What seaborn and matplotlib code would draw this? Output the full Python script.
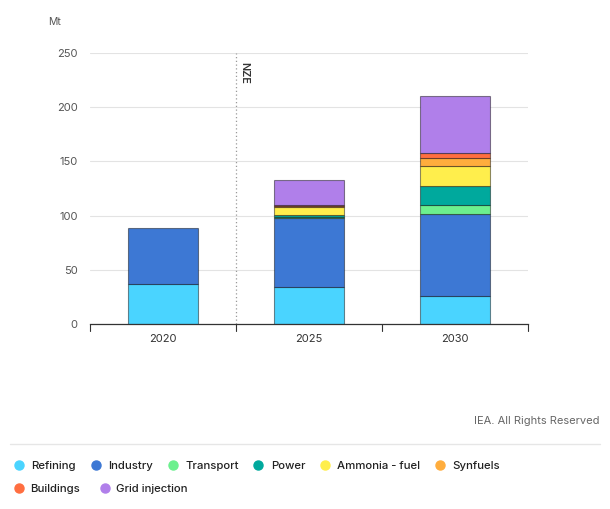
import matplotlib
matplotlib.use("Agg")
import matplotlib.pyplot as plt
from matplotlib.lines import Line2D
import seaborn as sns
import numpy as np

years = ["2020", "2025", "2030"]
sectors = ["Refining", "Industry", "Transport", "Power", "Ammonia - fuel",
           "Synfuels", "Buildings", "Grid injection"]
refining = [37, 34, 26]
industry = [52, 64, 75.5]
transport = [0, 1, 8]
power = [0, 1.5, 18]
ammonia = [0, 7, 18]
synfuels = [0, 1, 7.5]
buildings = [0, 1.5, 5]
grid = [0, 23, 52]
series = [refining, industry, transport, power, ammonia, synfuels, buildings, grid]
colors = ["#4ad4ff", "#3d78d4", "#6cf08e", "#00a99d", "#ffee4c",
          "#ffad3d", "#ff6e40", "#b07fea"]
yticks = [0, 50, 100, 150, 200, 250]

sns.set_theme(style="white")
plt.rcParams['font.family'] = ['Inter', 'DejaVu Sans']

fig = plt.figure(figsize=(6.1, 5.09), dpi=100)
ax = fig.add_axes([90/610, 1-324/509, 438/610, 271/509])

bottom = np.zeros(len(years))
for vals, col in zip(series, colors):
    v = np.array(vals, dtype=float)
    mask = v > 0
    sns.barplot(x=[y for y, m in zip(years, mask) if m], y=v[mask],
                bottom=bottom[mask], color=col, order=years, width=0.48,
                errorbar=None, ax=ax, saturation=1,
                edgecolor=(0, 0, 0, 0.45), linewidth=0.8)
    bottom = bottom + v

ax.set_xlim(-0.5, 2.5)
ax.set_ylim(0, 250)
ax.set_yticks(yticks)
ax.set_yticklabels([str(t) for t in yticks], color="#555555", fontsize=8)
ax.set_xticks([0, 1, 2])
ax.set_xticklabels(years, color="#333333", fontsize=8)
ax.tick_params(axis="x", length=0, pad=7)
ax.tick_params(axis="y", length=0, pad=9)
for t in [-0.5, 0.5, 1.5, 2.5]:
    ax.plot([t, t], [0, -6], color="#333333", lw=0.8, clip_on=False)
ax.set_xlabel("")
ax.set_ylabel("")
ax.yaxis.grid(True, color="#e3e3e3", lw=0.8)
ax.set_axisbelow(True)
for s in ["top", "right", "left"]:
    ax.spines[s].set_visible(False)
ax.spines["bottom"].set_color("#333333")
ax.spines["bottom"].set_linewidth(0.9)

ax.axvline(0.5, ymin=0, ymax=1, color="#999999", lw=0.9, ls=(0, (1, 2)))
ax.text(0.525, 242, "NZE", rotation=-90, va="top", ha="left", fontsize=7.8,
        color="#333333", fontweight="semibold")

fig.text(48/610, 1-22/509, "Mt", fontsize=7.5, color="#555555", va="center")
fig.text(600/610, 1-421/509, "IEA. All Rights Reserved", fontsize=8,
         color="#666666", ha="right", va="center")
fig.add_artist(Line2D([10/610, 600/610], [1-444/509, 1-444/509],
                      color="#e6e6e6", lw=1))

def handles(names, cols):
    return [Line2D([], [], marker="o", ls="", markersize=6.5, color=c,
                   label=n) for n, c in zip(names, cols)]

for names, cols, yy, cs, tp in [(sectors[:6], colors[:6], 466, 1.12, 0.5),
                                (sectors[6:], colors[6:], 489, 1.6, 0.35)]:
    leg = fig.legend(handles=handles(names, cols), ncol=len(names),
                     loc="center left", bbox_to_anchor=(2/610, 1-yy/509),
                     frameon=False, fontsize=8.2, handletextpad=tp,
                     columnspacing=cs, handlelength=1.2)
    for t in leg.get_texts():
        t.set_color("#222222")
        t.set_fontweight("medium")

fig.savefig("out.png", dpi=100)
